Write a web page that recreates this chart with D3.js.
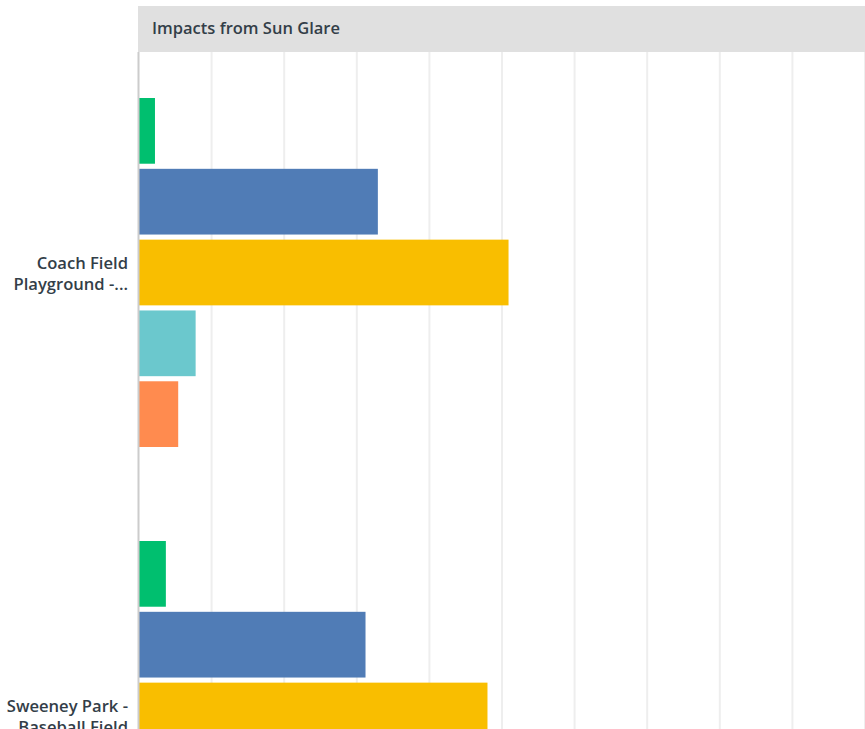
<!DOCTYPE html>
<html>
<head>
<meta charset="utf-8">
<script src="https://cdn.jsdelivr.net/npm/d3@7"></script>
<style>
  body { margin: 0; background: #fff; }
  text { font-family: "Open Sans", sans-serif; }
</style>
</head>
<body>
<div id="chart"></div>
<script>
// chart data (percent of respondents)
const title = "Impacts from Sun Glare";
const groups = ["Coach Field Playground", "Sweeney Park - Baseball Field"];
const groupLabels = [["Coach Field", "Playground -..."], ["Sweeney Park -", "Baseball Field"]];
const series = ["Choice 1", "Choice 2", "Choice 3", "Choice 4", "Choice 5"];
const values = [
  [2.2, 32.9, 50.9, 7.8, 5.4],
  [3.7, 31.2, 48.0, null, null] // last two bars fall below the visible area
];
const xTicks = [0, 10, 20, 30, 40, 50, 60, 70, 80, 90, 100];
const colors = ["#00bf6f", "#507cb6", "#f9be00", "#6bc8cd", "#ff8b4f"];

const config = {
  width: 865,
  height: 729,
  margin: { top: 52, left: 139 },
  headerTop: 6,
  groupStep: 443
};

let svg = d3.select("#chart")
  .append("svg")
  .attr("width", config.width)
  .attr("height", config.height);

let x = d3.scaleLinear()
  .domain([0, 100])
  .range([config.margin.left, config.margin.left + 726]);

let y0 = d3.scaleBand()
  .domain(groups)
  .range([config.margin.top, config.margin.top + config.groupStep * groups.length]);

let y1 = d3.scaleBand()
  .domain(series)
  .range([46, 395])
  .paddingInner(0.072);

// grid lines
svg.append("g")
  .selectAll("line")
  .data(xTicks.slice(1))
  .enter()
  .append("line")
  .attr("x1", d => x(d))
  .attr("x2", d => x(d))
  .attr("y1", config.margin.top)
  .attr("y2", config.height)
  .style("stroke", "#eeeeee")
  .style("stroke-width", 2);

// header band
svg.append("rect")
  .attr("x", config.margin.left - 1)
  .attr("y", config.headerTop)
  .attr("width", config.width - config.margin.left + 1)
  .attr("height", config.margin.top - config.headerTop)
  .attr("fill", "#e0e0e0");

svg.append("text")
  .attr("x", 152)
  .attr("y", 34)
  .attr("fill", "#333e48")
  .style("font-size", "16.5px")
  .style("font-weight", 600)
  .text(title);

// bars
let groupG = svg.selectAll(".group")
  .data(groups)
  .enter()
  .append("g")
  .attr("class", "group")
  .attr("transform", d => "translate(0," + y0(d) + ")");

groupG.selectAll("rect")
  .data((d, i) => values[i].map((v, j) => ({ key: series[j], value: v, color: colors[j] })).filter(e => e.value !== null))
  .enter()
  .append("rect")
  .attr("x", x(0))
  .attr("y", d => y1(d.key))
  .attr("width", d => x(d.value) - x(0))
  .attr("height", y1.bandwidth())
  .attr("fill", d => d.color);

// group labels
groupG.append("text")
  .attr("text-anchor", "end")
  .attr("fill", "#333e48")
  .style("font-size", "16.6px")
  .style("font-weight", 600)
  .selectAll("tspan")
  .data((d, i) => groupLabels[i])
  .enter()
  .append("tspan")
  .attr("x", 128)
  .attr("y", (d, i) => y0.bandwidth() / 2 - 5 + i * 21)
  .text(d => d);

// axis line
svg.append("line")
  .attr("x1", x(0) - 0.5)
  .attr("x2", x(0) - 0.5)
  .attr("y1", config.margin.top)
  .attr("y2", config.height)
  .style("stroke", "#cccccc")
  .style("stroke-width", 2);
</script>
</body>
</html>
